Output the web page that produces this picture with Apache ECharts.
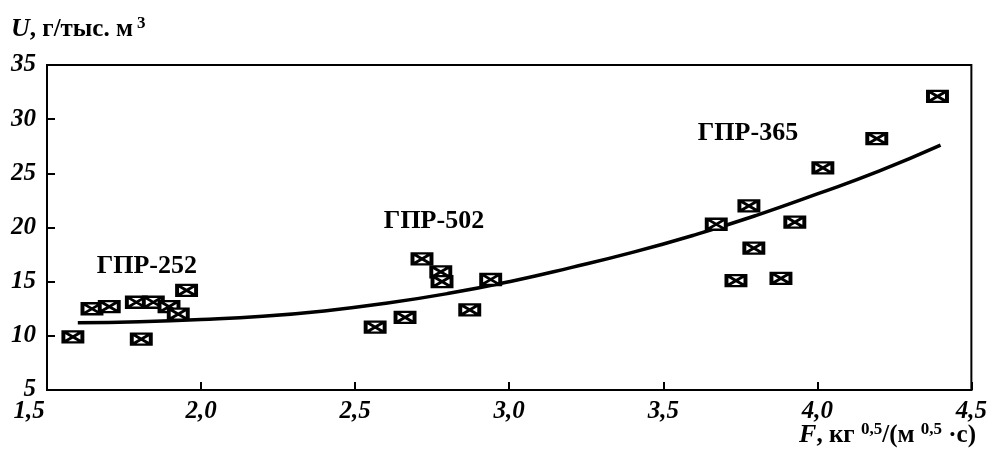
<!DOCTYPE html>
<html>
<head>
<meta charset="utf-8">
<script src="https://cdn.jsdelivr.net/npm/echarts@6/dist/echarts.min.js"></script>
<style>html,body{margin:0;padding:0;background:#fff}#c{width:990px;height:462px}</style>
</head>
<body>
<div id="c"></div>
<script>
// Measured points (F, U)
const pointsF = [1.584,1.646,1.702,1.790,1.845,1.896,1.926,1.953,1.806,
                 2.565,2.662,2.717,2.778,2.782,2.872,2.940,
                 3.672,3.778,3.794,3.736,3.882,3.927,4.018,4.193,4.390];
const pointsU = [9.9,12.5,12.7,13.1,13.1,12.7,12.0,14.2,9.7,
                 10.8,11.7,17.1,15.9,15.0,12.4,15.2,
                 20.3,22.0,18.1,15.1,15.3,20.5,25.5,28.2,32.1];
// Fitted curve
const curveF = [1.6,1.8,2.0,2.2,2.4,2.6,2.8,3.0,3.2,3.4,3.6,3.8,4.0,4.2,4.4];
const curveU = [11.2,11.3,11.5,11.8,12.3,13.0,13.9,15.0,16.3,17.7,19.3,21.1,23.1,25.2,27.6];
// Group labels
const groupNames = ['ГПР-252','ГПР-502','ГПР-365'];
const groupF = [1.824,2.756,3.775];
const groupU = [16.4,20.6,28.7];
const xTicks = {min:1.5,max:4.5,step:0.5};
const yTicks = {min:5,max:35,step:5};

const serif = '"Liberation Serif","Times New Roman",serif';
const chart = echarts.init(document.getElementById('c'));
chart.setOption({
  animation:false,
  backgroundColor:'#fff',
  grid:{left:47,right:16,top:65,bottom:72,show:true,borderColor:'#000',borderWidth:2,backgroundColor:'transparent'},
  xAxis:{type:'value',min:xTicks.min,max:xTicks.max,interval:xTicks.step,
    axisLine:{lineStyle:{color:'#000',width:2}},
    axisTick:{inside:true,length:8,lineStyle:{color:'#000',width:2}},
    splitLine:{show:false},
    axisLabel:{color:'#000',fontFamily:serif,fontSize:25,fontWeight:'bold',fontStyle:'italic',margin:9,
      formatter:v=>{const s=v.toFixed(1).replace('.',',');return v===xTicks.min?'{a|'+s+'}':s;},
      rich:{a:{fontFamily:serif,fontSize:25,fontWeight:'bold',fontStyle:'italic',color:'#000',padding:[0,36,0,0]}}}},
  yAxis:{type:'value',min:yTicks.min,max:yTicks.max,interval:yTicks.step,
    axisLine:{lineStyle:{color:'#000',width:2}},
    axisTick:{inside:true,length:8,lineStyle:{color:'#000',width:2}},
    splitLine:{show:false},
    axisLabel:{color:'#000',fontFamily:serif,fontSize:25,fontWeight:'bold',fontStyle:'italic',margin:11}},
  graphic:[
    {type:'text',left:11,top:15,style:{
      text:'{i|U}{b|, г/тыс. м}{s|3}',
      rich:{
        i:{fontFamily:serif,fontSize:26,fontWeight:'bold',fontStyle:'italic',fill:'#000'},
        b:{fontFamily:serif,fontSize:25,fontWeight:'bold',fill:'#000'},
        s:{fontFamily:serif,fontSize:17,fontWeight:'bold',fill:'#000',verticalAlign:'top',padding:[0,0,12,4]}
      }}},
    {type:'text',right:14,top:421,style:{
      text:'{i|F}{b|, кг }{s|0,5}{b|/(м }{s|0,5}{b| ·с)}',
      rich:{
        i:{fontFamily:serif,fontSize:26,fontWeight:'bold',fontStyle:'italic',fill:'#000'},
        b:{fontFamily:serif,fontSize:25,fontWeight:'bold',fill:'#000'},
        s:{fontFamily:serif,fontSize:17,fontWeight:'bold',fill:'#000',verticalAlign:'top',padding:[0,0,12,0]}
      }}}
  ],
  series:[
    {type:'line',smooth:true,showSymbol:false,symbol:'none',
     lineStyle:{color:'#000',width:3.5},data:curveF.map((f,i)=>[f,curveU[i]]),z:2},
    {type:'scatter',symbol:'path://M0,0L20,0L20,12L0,12ZM0,0L20,12M0,12L20,0',symbolSize:[19,11],
     itemStyle:{color:'#fff',borderColor:'#000',borderWidth:3,opacity:1},
     data:pointsF.map((f,i)=>[f,pointsU[i]]),z:3},
    {type:'scatter',symbol:'circle',symbolSize:1,
     itemStyle:{color:'rgba(0,0,0,0)',opacity:1},
     label:{show:true,position:'inside',formatter:p=>groupNames[p.dataIndex],opacity:1,
       color:'#000',fontFamily:serif,fontSize:26,fontWeight:'bold'},
     data:groupF.map((f,i)=>[f,groupU[i]]),z:4}
  ]
});
</script>
</body>
</html>
